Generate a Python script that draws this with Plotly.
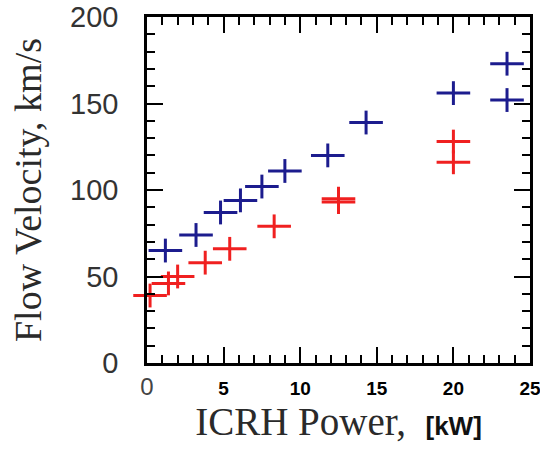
import plotly.graph_objects as go

# Data
blue_power = [1.2, 3.2, 4.8, 6.1, 7.5, 9.0, 11.8, 14.3, 20.0, 23.5, 23.5]
blue_velocity = [65, 74, 87, 94, 102, 111, 120, 139, 156, 173, 152]
red_power = [0.2, 1.4, 2.0, 3.8, 5.4, 8.3, 12.5, 12.5, 20.0, 20.0]
red_velocity = [39, 46, 50, 58, 66, 79, 95, 93, 128, 116]

x_tickvals = [0, 5, 10, 15, 20, 25]
x_ticktext = ["<span style='font-size:24px;font-weight:normal;color:#444'>0</span>",
              "5", "10", "15", "20", "25"]
y_tickvals = [0, 50, 100, 150, 200]

BLUE = "#1c1c8e"
RED = "#f02020"

fig = go.Figure()
for xs, ys, col in [(blue_power, blue_velocity, BLUE), (red_power, red_velocity, RED)]:
    fig.add_trace(go.Scatter(x=xs, y=ys, mode="markers", cliponaxis=False,
                             marker=dict(symbol="line-ew", size=24,
                                         line=dict(color=col, width=3)),
                             showlegend=False, hoverinfo="skip"))
    fig.add_trace(go.Scatter(x=xs, y=ys, mode="markers", cliponaxis=False,
                             marker=dict(symbol="line-ns", size=17,
                                         line=dict(color=col, width=3)),
                             showlegend=False, hoverinfo="skip"))

fig.update_layout(
    width=540, height=455,
    margin=dict(l=147, r=10, t=17, b=92),
    plot_bgcolor="white", paper_bgcolor="white",
    xaxis=dict(range=[0, 25], tickvals=x_tickvals, ticktext=x_ticktext,
               automargin=False, ticklabeloverflow="allow",
               showgrid=False, zeroline=False,
               showline=True, linecolor="black", linewidth=2.5, mirror="ticks",
               ticks="inside", ticklen=16, tickwidth=2, tickcolor="black",
               minor=dict(dtick=1, ticks="inside", ticklen=8, tickwidth=2,
                          tickcolor="black", showgrid=False),
               tickfont=dict(family="Arial, Liberation Sans", size=19,
                             color="black", weight="bold"),
               ticklabelstandoff=6,
               title=dict(text="ICRH Power,  <span style='font-family:Liberation Sans;font-weight:bold;font-size:26px;color:#111'>[kW]</span>",
                          font=dict(family="Liberation Serif", size=39, color="#2a2a2a"),
                          standoff=10)),
    yaxis=dict(range=[0, 200], tickvals=y_tickvals,
               automargin=False, ticklabeloverflow="allow",
               showgrid=False, zeroline=False,
               showline=True, linecolor="black", linewidth=2.5, mirror="ticks",
               ticks="inside", ticklen=16, tickwidth=2, tickcolor="black",
               minor=dict(dtick=10, ticks="inside", ticklen=8, tickwidth=2,
                          tickcolor="black", showgrid=False),
               tickfont=dict(family="Arial, Liberation Sans", size=29, color="#333"),
               ticklabelstandoff=20,
               title=dict(text="Flow Velocity, km/s",
                          font=dict(family="Liberation Serif", size=38, color="#2a2a2a"),
                          standoff=17)),
)

fig.write_html("out.html", config={"displayModeBar": False},
               post_script="document.body.style.margin='0';")
